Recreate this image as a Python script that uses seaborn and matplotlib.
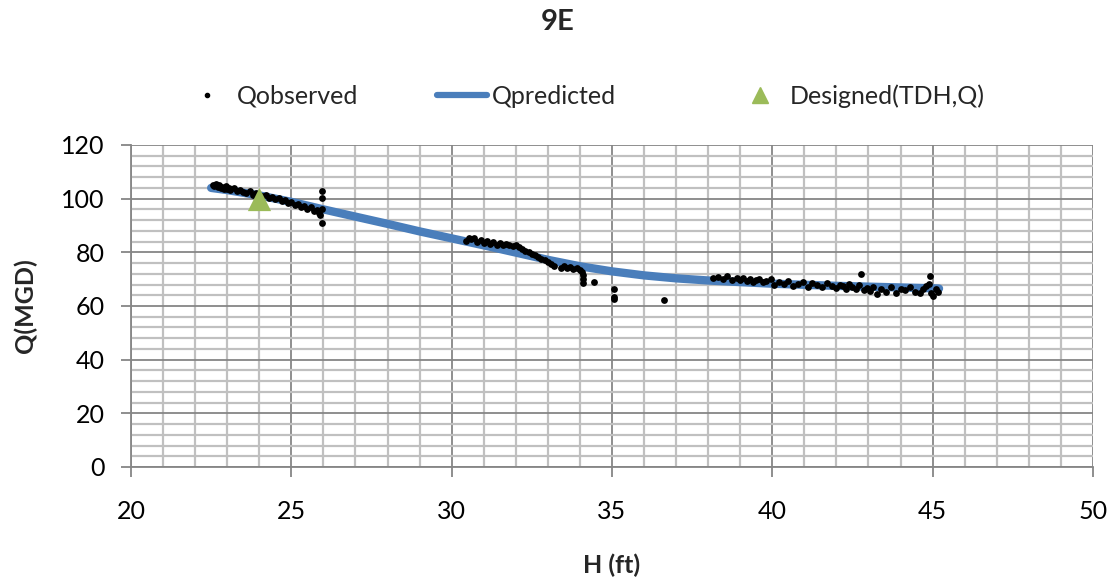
import matplotlib
matplotlib.use("Agg")
import matplotlib.pyplot as plt
from matplotlib.lines import Line2D
from matplotlib.ticker import MultipleLocator
import seaborn as sns
import pandas as pd

# ---- data ----
obs_h = [22.55,22.6,22.65,22.7,22.75,22.8,22.85,22.9,22.95,23.0,23.05,23.1,23.2,23.3,23.4,23.5,23.6,23.7,23.8,23.9,
         24.0,24.1,24.2,24.3,24.4,24.5,24.6,24.7,24.8,24.9,25.0,25.1,25.2,25.3,25.4,25.5,25.6,25.7,25.8,25.85,25.9,
         25.95,25.95,25.95,25.95,
         30.45,30.55,30.6,30.7,30.8,30.9,31.0,31.1,31.2,31.3,31.4,31.5,31.6,31.7,31.8,31.9,32.0,32.1,32.2,32.3,32.4,
         32.5,32.6,32.7,32.8,32.9,33.0,33.1,33.2,33.4,33.5,33.6,33.7,33.8,33.9,34.0,34.05,34.1,34.1,34.1,34.45,
         35.05,35.05,35.05,36.63,
         38.15,38.3,38.45,38.6,38.75,38.9,39.0,39.1,39.2,39.3,39.4,39.5,39.6,39.7,39.8,39.95,40.05,40.2,40.35,40.5,
         40.65,40.8,40.95,41.1,41.25,41.4,41.55,41.7,41.85,42.0,42.1,42.2,42.3,42.4,42.5,42.6,42.7,42.78,42.85,42.95,
         43.05,43.15,43.25,43.4,43.55,43.7,43.85,44.0,44.15,44.3,44.45,44.6,44.7,44.8,44.9,44.93,44.95,45.0,45.1,45.17]
obs_q = [105.2,104.6,105.5,104.2,105.0,103.8,104.5,103.6,104.8,103.5,104.0,103.2,103.8,102.7,103.1,102.4,102.0,102.8,101.5,102.1,
         101.2,100.8,101.5,100.2,100.6,99.8,100.2,99.0,99.5,98.3,98.8,97.6,98.0,96.9,97.4,96.2,96.8,95.3,95.9,94.6,94.0,
         102.8,100.3,96.0,91.0,
         84.3,85.5,84.8,85.2,84.0,84.5,83.6,84.2,83.1,83.7,82.9,83.4,82.6,83.1,82.8,82.3,82.9,81.8,81.2,80.6,80.1,
         79.5,78.9,78.3,77.5,77.0,76.4,75.6,75.0,74.3,74.8,74.2,74.6,73.8,74.1,73.5,72.6,71.5,70.2,68.6,68.8,
         66.3,63.2,62.6,62.2,
         70.3,70.8,70.1,71.0,69.8,70.6,69.5,70.4,69.2,70.0,68.9,69.6,69.9,68.8,69.3,70.2,67.8,68.9,68.2,69.4,
         67.6,68.3,68.8,67.2,68.5,67.9,66.9,68.4,67.5,66.8,67.9,67.3,66.5,68.2,67.0,66.2,67.8,71.9,66.0,66.8,
         65.5,67.2,64.6,66.4,65.2,66.9,64.9,66.3,65.8,66.9,65.1,64.7,66.2,67.4,68.3,71.2,64.7,63.6,66.5,65.3]

pred_h = [22.5,23,24,25,26,27,28,29,30,31,32,33,34,35,36,37,38,39,40,41,42,43,44,45,45.2]
pred_q = [104.0,103.2,101.2,98.8,96.0,93.3,90.6,87.8,85.2,82.6,79.9,77.2,74.8,72.9,71.4,70.3,69.5,68.9,68.3,67.9,
          67.5,67.2,66.9,66.6,66.5]

design_h = [24.0]
design_q = [100.0]

title = "9E"
xlabel = "H (ft)"
ylabel = "Q(MGD)"
labels = ["Qobserved", "Qpredicted", "Designed(TDH,Q)"]

# ---- plotting ----
sns.set_theme(style="white")
FONT = ["Lato", "DejaVu Sans"]
plt.rcParams["font.family"] = FONT

fig = plt.figure(figsize=(11.14, 5.86), dpi=100)
ax = fig.add_axes([0.1176, 0.2031, 0.8635, 0.5495])

major_c = "#868686"
minor_c = "#C0C0C0"
blue = "#4A7EBB"
green = "#9BBB59"

ax.set_xlim(20, 50)
ax.set_ylim(0, 120)
ax.xaxis.set_major_locator(MultipleLocator(5))
ax.xaxis.set_minor_locator(MultipleLocator(1))
ax.yaxis.set_major_locator(MultipleLocator(20))
ax.yaxis.set_minor_locator(MultipleLocator(4))
ax.grid(which="minor", color=minor_c, linewidth=1.6, zorder=0)
ax.grid(which="major", color=major_c, linewidth=1.3, zorder=0)
ax.set_axisbelow(True)
for s in ["top", "right"]:
    ax.spines[s].set_visible(False)
for s in ["left", "bottom"]:
    ax.spines[s].set_color(major_c)
    ax.spines[s].set_linewidth(1.3)
ax.tick_params(which="major", direction="out", length=7, width=1.3, color=major_c,
               labelsize=18, labelcolor="black", left=True, bottom=True)
ax.tick_params(axis="y", pad=12)
ax.tick_params(axis="x", pad=17)
ax.tick_params(which="minor", length=0)

df_pred = pd.DataFrame({"H": pred_h, "Q": pred_q})
df_obs = pd.DataFrame({"H": obs_h, "Q": obs_q})
df_des = pd.DataFrame({"H": design_h, "Q": design_q})

sns.lineplot(data=df_pred, x="H", y="Q", ax=ax, color=blue, linewidth=6,
             sort=True, zorder=2, legend=False)
sns.scatterplot(data=df_obs, x="H", y="Q", ax=ax, color="black", s=24, linewidth=0,
                zorder=3, legend=False)
sns.scatterplot(data=df_des, x="H", y="Q", ax=ax, color=green, marker="^", s=280,
                linewidth=0, zorder=4, legend=False)

ax.set_xlabel(xlabel, fontsize=18, fontweight="bold", va="center")
ax.set_ylabel(ylabel, fontsize=18, fontweight="bold", va="center")
ax.xaxis.set_label_coords(0.5, -0.304)
ax.yaxis.set_label_coords(-0.110, 0.5)
fig.text(0.501, 0.962, title, ha="center", va="center", fontsize=21, fontweight="bold")

handles = [
    Line2D([], [], marker="o", color="black", linestyle="none", markersize=3),
    Line2D([], [], color=blue, linewidth=4.5),
    Line2D([], [], marker="^", color=green, linestyle="none", markersize=11),
]
starts_px = [182, 437, 735]
W = 1114.0
for h, lab, x0 in zip(handles, labels, starts_px):
    leg = fig.legend([h], [lab], loc="center left", bbox_to_anchor=(x0 / W, 1 - 96 / 586.0),
                     frameon=False, fontsize=18, handlelength=2.0, handletextpad=0.2,
                     borderpad=0, borderaxespad=0)

fig.savefig("out.png", dpi=100)
